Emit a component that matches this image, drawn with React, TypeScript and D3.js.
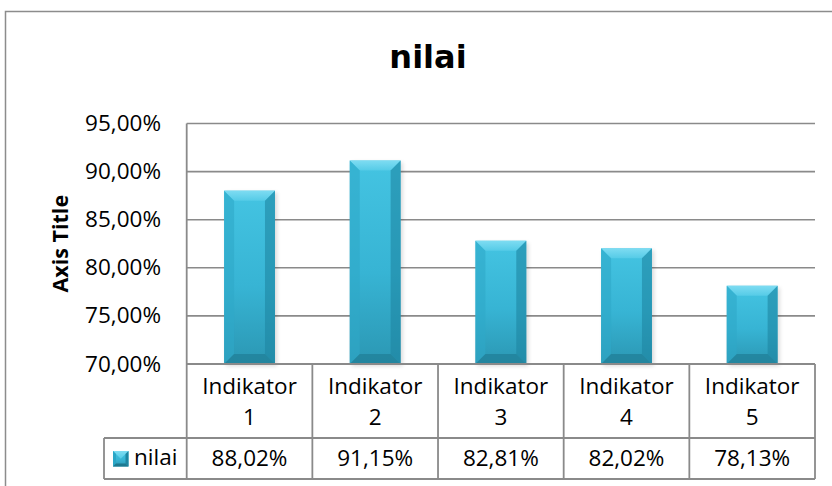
import React from "react";
import * as d3 from "d3";

const categories = ["Indikator 1", "Indikator 2", "Indikator 3", "Indikator 4", "Indikator 5"];
const values = [88.02, 91.15, 82.81, 82.02, 78.13];
const yTicks = [70, 75, 80, 85, 90, 95];
const seriesName = "nilai";
const chartTitle = "nilai";
const axisTitle = "Axis Title";

const W = 832;
const H = 486;
const plotLeft = 186.7;
const plotRight = 815;
const plotTop = 123.5;
const plotBottom = 364;
const rowMid = 438;
const rowBottom = 479;
const legendLeft = 104;

const fmt = (v: number) => v.toFixed(2).replace(".", ",") + "%";
const FONT = "'Open Sans', 'Noto Sans', sans-serif";

function Bar({ x, y, w, h }: { x: number; y: number; w: number; h: number }) {
  const b = Math.min(10, w / 4, h / 2);
  return (
    <g>
      <rect x={x + 2} y={y + 2} width={w} height={h} fill="#000" opacity={0.15} filter="url(#shadow)" />
      <rect x={x} y={y} width={w} height={h} fill="url(#barFace)" />
      <polygon points={`${x},${y} ${x + w},${y} ${x + w - b},${y + b} ${x + b},${y + b}`} fill="url(#bevelTop)" />
      <polygon points={`${x},${y} ${x + b},${y + b} ${x + b},${y + h - b} ${x},${y + h}`} fill="#2ea9c8" opacity={0.6} />
      <polygon points={`${x + w},${y} ${x + w - b},${y + b} ${x + w - b},${y + h - b} ${x + w},${y + h}`} fill="#1e86a2" opacity={0.6} />
      <polygon points={`${x},${y + h} ${x + b},${y + h - b} ${x + w - b},${y + h - b} ${x + w},${y + h}`} fill="#1f7e96" opacity={0.7} />
    </g>
  );
}

export default function App() {
  const x = d3.scaleBand<string>().domain(categories).range([plotLeft, plotRight]).padding(0);
  const y = d3.scaleLinear().domain([70, 95]).range([plotBottom, plotTop]);
  const bw = x.bandwidth();
  const barW = bw * 0.405;
  const grid = "#8a8a8a";

  return (
    <svg width={W} height={H} style={{ position: "absolute", left: 0, top: 0, background: "#fff" }}>
      <defs>
        <linearGradient id="barFace" x1="0" y1="0" x2="0" y2="1">
          <stop offset="0" stopColor="#44c4e2" />
          <stop offset="0.55" stopColor="#37b4d4" />
          <stop offset="1" stopColor="#2b97b3" />
        </linearGradient>
        <linearGradient id="bevelTop" x1="0" y1="0" x2="0" y2="1">
          <stop offset="0" stopColor="#7edcf2" />
          <stop offset="1" stopColor="#55cbe7" />
        </linearGradient>
        <filter id="shadow" x="-20%" y="-20%" width="140%" height="140%">
          <feGaussianBlur stdDeviation="2" />
        </filter>
      </defs>
      <rect x={0} y={0} width={W} height={H} fill="#fff" />
      <rect x={5.5} y={11.5} width={860} height={500} fill="#fff" stroke="#8c8c8c" strokeWidth={1.5} />

      <text x={428} y={68} textAnchor="middle" fontFamily="'DejaVu Sans', sans-serif" fontWeight="bold" fontSize={32} fill="#000">
        {chartTitle}
      </text>

      {yTicks.map((t) => (
        <g key={t}>
          <line x1={plotLeft} x2={plotRight} y1={y(t)} y2={y(t)} stroke={grid} strokeWidth={1.6} />
          <text x={161} y={y(t) + 7.5} textAnchor="end" fontFamily={FONT} fontSize={22.5} fill="#000">
            {fmt(t)}
          </text>
        </g>
      ))}

      <text
        transform={`translate(68,${(plotTop + plotBottom) / 2}) rotate(-90)`}
        textAnchor="middle"
        fontFamily={FONT}
        fontWeight="bold"
        fontSize={21.5}
        fill="#000"
      >
        {axisTitle}
      </text>

      {categories.map((c, i) => {
        const x0 = x(c)! + (bw - barW) / 2;
        const yt = y(values[i]);
        return <Bar key={c} x={x0} y={yt} w={barW} h={plotBottom - yt} />;
      })}

      {/* data table */}
      <line x1={plotLeft} x2={plotLeft} y1={plotTop} y2={rowBottom} stroke={grid} strokeWidth={1.8} />
      <line x1={plotLeft} x2={plotRight} y1={plotBottom} y2={plotBottom} stroke={grid} strokeWidth={1.8} />
      <line x1={legendLeft} x2={plotRight} y1={rowMid} y2={rowMid} stroke={grid} strokeWidth={1.8} />
      <line x1={legendLeft} x2={plotRight} y1={rowBottom} y2={rowBottom} stroke={grid} strokeWidth={1.8} />
      <line x1={legendLeft} x2={legendLeft} y1={rowMid} y2={rowBottom} stroke={grid} strokeWidth={1.8} />
      {categories.map((c) => (
        <line key={c} x1={x(c)! + bw} x2={x(c)! + bw} y1={plotBottom} y2={rowBottom} stroke={grid} strokeWidth={1.8} />
      ))}

      {categories.map((c, i) => {
        const cx = x(c)! + bw / 2;
        const parts = c.split(" ");
        return (
          <g key={c}>
            <text x={cx} y={394} textAnchor="middle" fontFamily={FONT} fontSize={22.5} fill="#000">
              {parts[0]}
            </text>
            <text x={cx} y={425} textAnchor="middle" fontFamily={FONT} fontSize={22.5} fill="#000">
              {parts[1]}
            </text>
            <text x={cx} y={466} textAnchor="middle" fontFamily={FONT} fontSize={22.5} fill="#000">
              {fmt(values[i])}
            </text>
          </g>
        );
      })}

      {/* legend key */}
      <g>
        <rect x={113} y={451} width={15.5} height={15.5} fill="url(#barFace)" />
        <polygon points="113,451 128.5,451 120.75,458.75" fill="url(#bevelTop)" />
        <polygon points="113,451 116,454 116,463.5 113,466.5" fill="#2aa6c6" />
        <polygon points="128.5,451 125.5,454 125.5,463.5 128.5,466.5" fill="#1e86a2" />
        <polygon points="113,466.5 116,463.5 125.5,463.5 128.5,466.5" fill="#1d7990" />
      </g>
      <text x={134} y={465} fontFamily={FONT} fontSize={22.5} fill="#000">
        {seriesName}
      </text>
    </svg>
  );
}
